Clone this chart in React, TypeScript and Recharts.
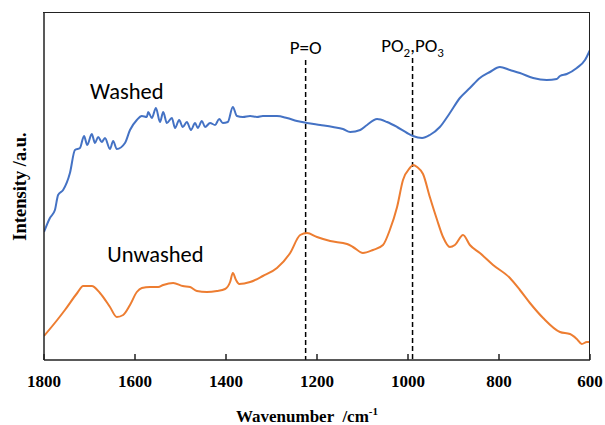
import React from "react";
import {
  LineChart,
  Line,
  XAxis,
  YAxis,
  ReferenceLine,
  ReferenceDot,
} from "recharts";

// wavenumber (cm-1) and intensity (arbitrary units)
const washedWave = [
  1800, 1787, 1776, 1769, 1758, 1743, 1732, 1721, 1712, 1705, 1695, 1688, 1681,
  1673, 1666, 1655, 1648, 1640, 1622, 1611, 1596, 1585, 1574, 1571, 1563, 1554,
  1545, 1538, 1530, 1519, 1512, 1503, 1495, 1486, 1477, 1468, 1462, 1453, 1446,
  1435, 1424, 1415, 1407, 1396, 1385, 1376, 1363, 1347, 1332, 1319, 1288, 1266,
  1244, 1222, 1193, 1165, 1143, 1127, 1105, 1090, 1068, 1046, 1024, 1002, 989,
  969, 952, 930, 908, 886, 864, 842, 820, 798, 776, 754, 725, 695, 673, 666, 651,
  629, 611, 600,
];
const washedIntensity = [
  128, 142, 150, 165, 170, 187, 210, 212, 224, 215, 226, 217, 223, 218, 222, 211,
  219, 211, 217, 230, 240, 244, 243, 248, 242, 252, 238, 248, 237, 242, 232, 240,
  233, 238, 230, 237, 232, 239, 233, 237, 235, 241, 237, 238, 253, 244, 243, 244,
  243, 244, 244, 242, 239, 237, 235, 233, 231, 228, 230, 235, 241, 238, 233, 227,
  224, 222, 225, 233, 247, 262, 272, 282, 288, 293, 290, 287, 282, 280, 281, 284,
  286, 292, 300, 310,
];

const unwashedWave = [
  1800, 1771, 1754, 1727, 1714, 1695, 1677, 1655, 1640, 1626, 1611, 1596, 1585,
  1567, 1549, 1538, 1516, 1495, 1479, 1464, 1442, 1420, 1402, 1391, 1385, 1378,
  1371, 1347, 1319, 1288, 1259, 1237, 1222, 1200, 1171, 1134, 1121, 1099, 1077,
  1055, 1040, 1024, 1011, 996, 989, 980, 967, 952, 936, 923, 908, 897, 879, 864,
  842, 813, 776, 754, 732, 703, 666, 644, 629, 618, 607, 600,
];
const unwashedIntensity = [
  24, 40, 50, 67, 74, 74, 67, 53, 43, 45, 55, 68, 72, 73, 73, 75, 77, 74, 73, 69,
  68, 69, 71, 78, 87, 80, 76, 78, 84, 92, 107, 125, 127, 123, 119, 116, 113, 107,
  110, 115, 130, 153, 180, 192, 195, 193, 186, 163, 140, 123, 113, 115, 125, 115,
  107, 95, 82, 70, 57, 42, 28, 26, 21, 16, 18, 18,
];

const xTicks = [1800, 1600, 1400, 1200, 1000, 800, 600];
const xDomain = [600, 1800];
const yDomain = [0, 347];

const washed = washedWave.map((w, i) => ({ w, v: washedIntensity[i] }));
const unwashed = unwashedWave.map((w, i) => ({ w, v: unwashedIntensity[i] }));

const serif = "'Times New Roman', 'Liberation Serif', serif";
const sans = "Calibri, 'Liberation Sans', Arial, sans-serif";
const frame = "#222";
const frameLine = { stroke: frame, strokeWidth: 1.5 };

// layout
const W = 605;
const H = 425;
const margin = { top: 13, right: 15, bottom: 0, left: 0 };
const yAxisW = 44;
const xAxisH = 65;
const plot = {
  left: margin.left + yAxisW,
  top: margin.top,
  width: W - margin.left - margin.right - yAxisW,
  height: H - margin.top - margin.bottom - xAxisH,
};

const PeakLabel = ({ viewBox, parts }: any) => {
  const { x, y } = viewBox;
  // parts: [text, isSubscript]
  let shift = 0;
  return (
    <text x={x} y={y - 6} textAnchor="middle" fontFamily={sans} fontSize={19} fill="#000">
      {parts.map(([t, sub]: [string, boolean], i: number) => {
        const target = sub ? 5 : 0;
        const dy = target - shift;
        shift = target;
        return (
          <tspan key={i} dy={dy} fontSize={sub ? 13 : 19}>
            {t}
          </tspan>
        );
      })}
    </text>
  );
};

const SeriesName = ({ viewBox, text }: any) => {
  const { x, y, width = 0, height = 0 } = viewBox;
  return (
    <text
      x={x + width / 2}
      y={y + height / 2}
      dy="0.35em"
      textAnchor="middle"
      fontFamily={sans}
      fontSize={22.5}
      fill="#000"
    >
      {text}
    </text>
  );
};

const XTitle = ({ viewBox }: any) => {
  const { x, y, width } = viewBox;
  return (
    <text
      x={x + width / 2 - 10}
      y={y + 62}
      textAnchor="middle"
      fontFamily={serif}
      fontWeight="bold"
      fontSize={17}
      fill="#000"
      style={{ whiteSpace: "pre" }}
    >
      {"Wavenumber  /cm"}
      <tspan fontSize={11} dy={-7}>
        -1
      </tspan>
    </text>
  );
};

const YTitle = ({ viewBox }: any) => {
  const { y, height } = viewBox;
  const cx = 20;
  const cy = y + height / 2;
  return (
    <text
      x={cx}
      y={cy}
      transform={`rotate(-90 ${cx} ${cy})`}
      textAnchor="middle"
      dy="0.35em"
      fontFamily={serif}
      fontWeight="bold"
      fontSize={18.5}
      fill="#000"
    >
      Intensity /a.u.
    </text>
  );
};

export default function App() {
  return (
    <div style={{ position: "absolute", left: 0, top: 0, width: W, height: H, background: "#fff" }}>
      <LineChart width={W} height={H} margin={margin}>
        <XAxis
          dataKey="w"
          type="number"
          domain={xDomain}
          reversed
          ticks={xTicks}
          allowDataOverflow
          height={xAxisH}
          tickSize={-6}
          tickMargin={21}
          axisLine={frameLine}
          tickLine={frameLine}
          tick={{ fontFamily: serif, fontWeight: "bold", fontSize: 17, fill: "#000" }}
          label={<XTitle />}
        />
        <YAxis
          type="number"
          domain={yDomain}
          allowDataOverflow
          width={yAxisW}
          tick={false}
          tickLine={false}
          axisLine={frameLine}
          label={<YTitle />}
        />
        <ReferenceLine
          segment={[{ x: 1225, y: 300 }, { x: 1225, y: 0 }]}
          stroke="#000"
          strokeWidth={1.5}
          strokeDasharray="5 3"
          label={<PeakLabel parts={[["P=O", false]]} />}
        />
        <ReferenceLine
          segment={[{ x: 990, y: 302 }, { x: 990, y: 0 }]}
          stroke="#000"
          strokeWidth={1.5}
          strokeDasharray="5 3"
          label={
            <PeakLabel
              parts={[
                ["PO", false],
                ["2", true],
                [",PO", false],
                ["3", true],
              ]}
            />
          }
        />
        <ReferenceDot x={1618} y={269} r={0} fill="none" stroke="none" label={<SeriesName text="Washed" />} />
        <ReferenceDot x={1555} y={106} r={0} fill="none" stroke="none" label={<SeriesName text="Unwashed" />} />
        <Line
          data={washed}
          dataKey="v"
          type="monotone"
          stroke="#4472C4"
          strokeWidth={2}
          dot={false}
          isAnimationActive={false}
        />
        <Line
          data={unwashed}
          dataKey="v"
          type="monotone"
          stroke="#ED7D31"
          strokeWidth={2}
          dot={false}
          isAnimationActive={false}
        />
      </LineChart>
      {/* plot frame (top and right edges) */}
      <div
        style={{
          position: "absolute",
          left: plot.left - 0.75,
          top: plot.top - 0.75,
          width: plot.width,
          height: plot.height,
          borderTop: `1.5px solid ${frame}`,
          borderRight: `1.5px solid ${frame}`,
          pointerEvents: "none",
        }}
      />
    </div>
  );
}
